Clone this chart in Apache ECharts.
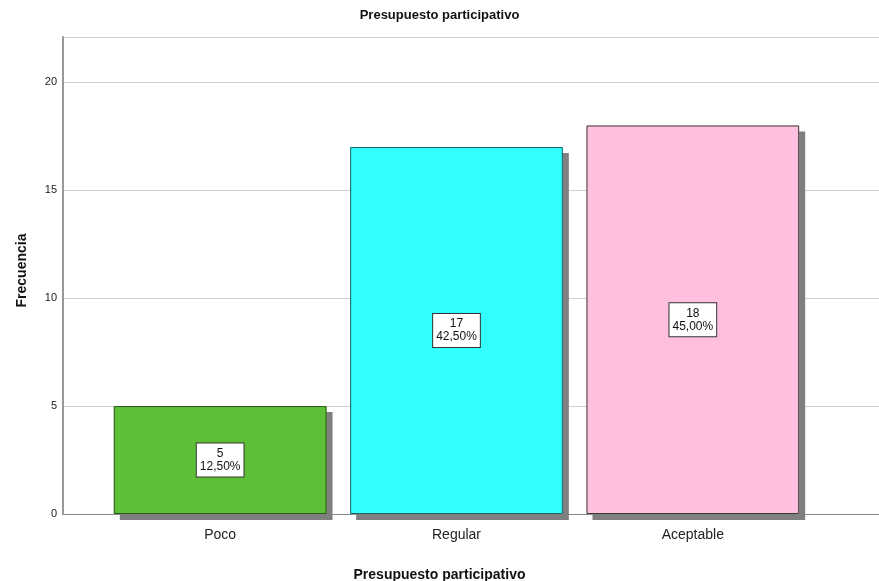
<!DOCTYPE html>
<html><head><meta charset="utf-8">
<script src="https://cdn.jsdelivr.net/npm/echarts@6/dist/echarts.min.js"></script>
<style>html,body{margin:0;padding:0;background:#fff}#c{width:879px;height:581px}</style>
</head><body><div id="c"></div>
<script>
var categories = ['Poco', 'Regular', 'Aceptable'];
var counts = [5, 17, 18];
var percents = ['12,50%', '42,50%', '45,00%'];
var yTicks = [0, 5, 10, 15, 20];
var colors = ['#5dbf36', '#33ffff', '#ffbfdf'];
var borders = ['#2b5a1c', '#1f5f5f', '#3a3a3a'];

var chart = echarts.init(document.getElementById('c'));
var F = 'Liberation Sans, Arial, sans-serif';
chart.setOption({
  animation: false,
  title: [
    { text: 'Presupuesto participativo', left: 'center', top: 4,
      textStyle: { fontFamily: F, fontSize: 13, fontWeight: 'bold', color: '#111' } },
    { text: 'Presupuesto participativo', left: 'center', top: 563,
      textStyle: { fontFamily: F, fontSize: 14, fontWeight: 'bold', color: '#111' } }
  ],
  grid: [
    { left: 63, right: 0, top: 37, bottom: 67, outerBoundsMode: 'none' },
    { left: 102, right: 68, top: 37, bottom: 67, outerBoundsMode: 'none' }
  ],
  xAxis: [
    { gridIndex: 0, type: 'value', min: 0, max: 1, axisLine: { show: true, onZero: false, lineStyle: { color: '#888', width: 1 } },
      axisTick: { show: false }, axisLabel: { show: false }, splitLine: { show: false } },
    { gridIndex: 1, type: 'category', data: categories, axisLine: { show: false }, axisTick: { show: false },
      axisLabel: { fontFamily: F, fontSize: 14, color: '#222', margin: 14 } }
  ],
  yAxis: [
    { gridIndex: 0, type: 'value', min: 0, max: 22.1, interval: 5,
      axisLine: { show: true, lineStyle: { color: '#999', width: 2 } }, axisTick: { show: false },
      axisLabel: { fontFamily: F, fontSize: 11, color: '#222', margin: 6,
        formatter: function (v) { return yTicks.indexOf(v) >= 0 ? String(v) : ''; } },
      splitLine: { show: true, lineStyle: { color: '#cfcfcf', width: 1 } },
      name: 'Frecuencia', nameLocation: 'middle', nameGap: 34, nameRotate: 90,
      nameTextStyle: { fontFamily: F, fontSize: 14, fontWeight: 'bold', color: '#111', padding: [0, 0, 0, 10] } },
    { gridIndex: 1, type: 'value', min: 0, max: 22.1, show: false, splitLine: { show: false } }
  ],
  series: [{
    type: 'bar', xAxisIndex: 1, yAxisIndex: 1, barCategoryGap: '10%', barGap: '-100%', silent: true,
    data: counts.map(function (v, i) {
      return { value: v, itemStyle: { color: colors[i],
        shadowColor: '#7f7f7f', shadowBlur: 0, shadowOffsetX: 6, shadowOffsetY: 6 } };
    })
  }, {
    type: 'bar', xAxisIndex: 1, yAxisIndex: 1, barCategoryGap: '10%', barGap: '-100%',
    data: counts.map(function (v, i) {
      return { value: v, itemStyle: { color: 'rgba(0,0,0,0)', borderColor: borders[i], borderWidth: 1 } };
    }),
    label: { show: true, position: 'inside', fontFamily: F, fontSize: 12, color: '#111', lineHeight: 13,
      backgroundColor: '#fff', borderColor: '#333', borderWidth: 1, padding: [4, 3, 3, 3],
      formatter: function (p) { return counts[p.dataIndex] + '\n' + percents[p.dataIndex]; } }
  }]
});
</script></body></html>
